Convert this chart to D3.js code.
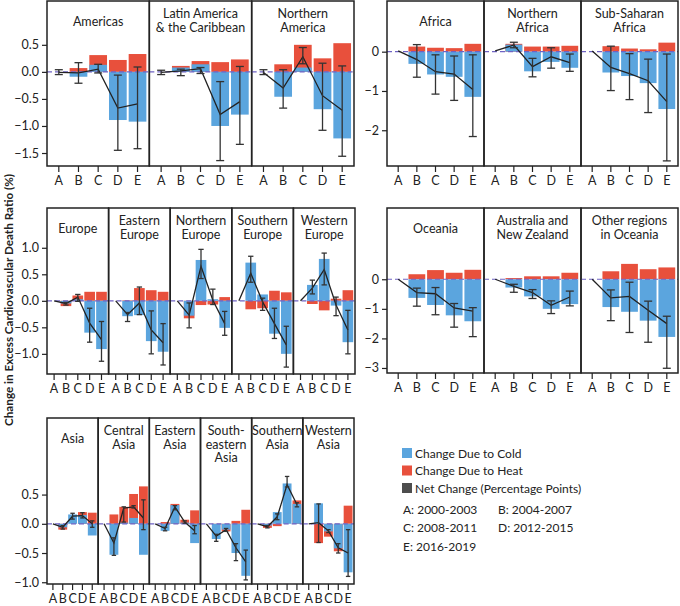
<!DOCTYPE html>
<html>
<head>
<meta charset="utf-8">
<script src="https://cdn.jsdelivr.net/npm/d3@7"></script>
<style>
  body { margin: 0; background: #fff; }
  svg { font-family: Lato, "Open Sans", sans-serif; }
</style>
</head>
<body>
<svg width="680" height="606"></svg>
<script>
// periods (x categories) and regions, in panel order
const periods = ["A", "B", "C", "D", "E"];
const regions = [
  "Americas", "Latin America\n& the Caribbean", "Northern\nAmerica",
  "Africa", "Northern\nAfrica", "Sub-Saharan\nAfrica",
  "Europe", "Eastern\nEurope", "Northern\nEurope", "Southern\nEurope", "Western\nEurope",
  "Oceania", "Australia and\nNew Zealand", "Other regions\nin Oceania",
  "Asia", "Central\nAsia", "Eastern\nAsia", "South-\neastern\nAsia", "Southern\nAsia", "Western\nAsia"
];

// change due to cold, one row per region
const cold = [
  [0, -0.09, 0.13, -0.89, -0.92],
  [0, 0.08, 0.14, -1.0, -0.79],
  [0, -0.46, 0.08, -0.69, -1.23],
  [0, -0.31, -0.58, -0.64, -1.15],
  [0, 0.18, -0.5, -0.26, -0.41],
  [0, -0.53, -0.62, -0.8, -1.46],
  [0, -0.05, 0.03, -0.6, -0.91],
  [0, -0.29, -0.27, -0.76, -0.96],
  [0, -0.28, 0.77, 0.03, -0.51],
  [0, 0.72, 0.12, -0.62, -1.0],
  [0, 0.3, 0.79, -0.09, -0.78],
  [0, -0.63, -0.87, -1.22, -1.42],
  [0, -0.28, -0.58, -1.0, -0.84],
  [0, -0.94, -1.1, -1.4, -1.95],
  [0, -0.06, 0.16, 0.15, -0.2],
  [0, -0.53, 0.02, 0.1, -0.53],
  [0, -0.12, 0.32, 0.02, -0.33],
  [0, -0.26, -0.1, -0.5, -0.89],
  [0, -0.03, 0.2, 0.69, 0.34],
  [0, 0.35, -0.13, -0.42, -0.83]
];

// change due to heat
const heat = [
  [0, 0.07, 0.31, 0.22, 0.33],
  [0, 0.11, 0.2, 0.18, 0.23],
  [0, 0.14, 0.5, 0.25, 0.53],
  [0, 0.13, 0.1, 0.09, 0.2],
  [0, 0.2, 0.13, 0.13, 0.15],
  [0, 0.14, 0.08, 0.06, 0.23],
  [0, -0.1, 0.1, 0.17, 0.17],
  [0, 0.01, 0.24, 0.2, 0.17],
  [0, -0.33, -0.08, -0.07, 0.07],
  [0, -0.16, -0.14, 0.19, 0.16],
  [0, -0.06, -0.18, 0.04, 0.2],
  [0, 0.17, 0.31, 0.22, 0.32],
  [0, 0.04, 0.1, 0.1, 0.22],
  [0, 0.27, 0.52, 0.34, 0.4],
  [0, -0.1, 0.0, 0.2, 0.19],
  [0, 0.16, 0.29, 0.51, 0.64],
  [0, 0.03, 0.34, 0.07, 0.23],
  [0, -0.01, -0.13, 0.05, 0.24],
  [0, -0.07, -0.04, 0.0, 0.4],
  [0, -0.33, -0.22, -0.47, 0.31]
];

// net change (percentage points)
const net = [
  [-0.01, -0.02, 0.05, -0.67, -0.59],
  [-0.01, 0.02, 0.06, -0.79, -0.55],
  [-0.01, -0.3, 0.28, -0.44, -0.71],
  [0.02, -0.2, -0.51, -0.57, -0.96],
  [0.02, 0.17, -0.38, -0.13, -0.28],
  [0.02, -0.4, -0.56, -0.74, -1.27],
  [0, -0.05, 0.07, -0.42, -0.73],
  [0, -0.26, -0.04, -0.55, -0.79],
  [0, -0.27, 0.65, 0.01, -0.43],
  [0, 0.52, -0.02, -0.43, -0.83],
  [0, 0.24, 0.59, -0.08, -0.55],
  [0, -0.45, -0.49, -0.97, -1.08],
  [0, -0.24, -0.45, -0.88, -0.6],
  [0, -0.63, -0.58, -1.05, -1.5],
  [0, -0.06, 0.13, 0.14, 0.0],
  [0, -0.33, 0.27, 0.29, 0.1],
  [0, -0.08, 0.29, 0.03, -0.12],
  [0, -0.21, -0.1, -0.41, -0.65],
  [0, -0.05, 0.12, 0.67, 0.33],
  [0, 0.02, -0.12, -0.41, -0.5]
];

// error bar ends for the net change
const errLow = [
  [-0.05, -0.21, -0.02, -1.45, -1.42],
  [-0.05, -0.07, -0.03, -1.64, -1.34],
  [-0.05, -0.67, 0.15, -1.08, -1.56],
  [0, -0.65, -1.08, -1.24, -2.16],
  [0, 0.1, -0.64, -0.42, -0.5],
  [0, -0.99, -1.22, -1.55, -2.78],
  [0, -0.08, -0.01, -0.78, -1.14],
  [0, -0.39, -0.26, -1.0, -1.21],
  [0, -0.51, 0.42, -0.07, -0.65],
  [0, 0.35, -0.18, -0.71, -1.25],
  [0, 0.13, 0.3, -0.28, -1.0],
  [0, -0.91, -1.2, -1.62, -1.94],
  [0, -0.44, -0.65, -1.16, -0.9],
  [0, -1.4, -1.8, -2.13, -3.01],
  [0, -0.09, 0.08, 0.1, -0.06],
  [0, -0.54, 0.03, 0.27, -0.1],
  [0, -0.12, 0.24, 0.01, -0.17],
  [0, -0.3, -0.13, -0.63, -0.96],
  [0, -0.07, 0.07, 0.63, 0.29],
  [0, -0.32, -0.15, -0.5, -0.9]
];
const errHigh = [
  [0.04, 0.17, 0.14, -0.06, 0.09],
  [0.03, 0.05, 0.08, -0.18, 0.1],
  [0.04, 0.04, 0.45, 0.16, 0.11],
  [0, 0.18, -0.08, -0.11, -0.08],
  [0, 0.24, -0.17, 0.1, -0.06],
  [0, 0.14, -0.05, -0.19, -0.06],
  [0, -0.03, 0.12, -0.14, -0.39],
  [0, -0.22, 0.26, -0.19, -0.43],
  [0, -0.04, 0.97, 0.22, -0.2],
  [0, 0.84, 0.05, -0.14, -0.48],
  [0, 0.39, 0.9, 0.07, -0.18],
  [0, -0.3, -0.28, -0.82, -0.96],
  [0, -0.17, -0.35, -0.73, -0.4],
  [0, -0.36, -0.1, -0.74, -1.25],
  [0, -0.03, 0.18, 0.19, 0.05],
  [0, -0.24, 0.29, 0.31, 0.41],
  [0, -0.06, 0.31, 0.05, -0.03],
  [0, -0.18, -0.08, -0.34, -0.45],
  [0, -0.03, 0.17, 0.81, 0.36],
  [0, 0.34, -0.1, -0.34, -0.1]
];

const periodLabels = ["A: 2000-2003", "B: 2004-2007", "C: 2008-2011", "D: 2012-2015", "E: 2016-2019"];

// panel blocks: which regions share a y axis
const blocks = [
  { first: 0, count: 3, x: 47, w: 307, top: 1, bottom: 166, domain: [-1.74, 1.31], ticks: [-1.5, -1, -0.5, 0, 0.5], fmt: ".1f" },
  { first: 3, count: 3, x: 387, w: 291, top: 1, bottom: 166, domain: [-2.91, 1.29], ticks: [-2, -1, 0], fmt: "d" },
  { first: 6, count: 5, x: 47, w: 308, top: 208, bottom: 374, domain: [-1.38, 1.75], ticks: [-1, -0.5, 0, 0.5, 1], fmt: ".1f" },
  { first: 11, count: 3, x: 387, w: 291, top: 208, bottom: 373, domain: [-3.17, 2.41], ticks: [-3, -2, -1, 0], fmt: "d" },
  { first: 14, count: 6, x: 47, w: 307, top: 418, bottom: 584, domain: [-1.03, 1.81], ticks: [-1, -0.5, 0, 0.5], fmt: ".1f" }
];

const blue = "#5ba5de";
const red = "#e8503c";
const ink = "#222";

let svg = d3.select("svg");

blocks.forEach(function(b) {
  let g = svg.append("g");
  let y = d3.scaleLinear().domain(b.domain).range([b.bottom, b.top]);
  let pw = b.w / b.count;

  // y axis on the left edge
  let yAxis = g.append("g")
    .attr("transform", `translate(${b.x},0)`)
    .call(d3.axisLeft(y).tickValues(b.ticks).tickSize(5).tickPadding(3).tickFormat(d3.format(b.fmt)));
  yAxis.select(".domain").remove();
  yAxis.selectAll("text").attr("font-size", 12.5).attr("fill", ink).attr("font-family", "Lato, sans-serif");
  yAxis.selectAll("line").attr("stroke", ink).attr("stroke-width", 1.2);

  for (let k = 0; k < b.count; k++) {
    let r = b.first + k;
    let x0 = b.x + k * pw;
    let x = d3.scaleBand().domain(periods).range([x0, x0 + pw]).paddingInner(0.1).paddingOuter(0.15);
    let cx = (p) => x(p) + x.bandwidth() / 2;
    let p = g.append("g");

    // heat bars behind, cold bars over them
    p.selectAll("rect.heat")
      .data(periods)
      .enter()
      .append("rect")
      .attr("class", "heat")
      .attr("x", (d) => x(d))
      .attr("width", x.bandwidth())
      .attr("y", (d, i) => y(Math.max(0, heat[r][i])))
      .attr("height", (d, i) => Math.abs(y(heat[r][i]) - y(0)))
      .attr("fill", red);

    p.selectAll("rect.cold")
      .data(periods)
      .enter()
      .append("rect")
      .attr("class", "cold")
      .attr("x", (d) => x(d))
      .attr("width", x.bandwidth())
      .attr("y", (d, i) => y(Math.max(0, cold[r][i])))
      .attr("height", (d, i) => Math.abs(y(cold[r][i]) - y(0)))
      .attr("fill", blue);

    // dashed zero line
    p.append("line")
      .attr("x1", x0).attr("x2", x0 + pw)
      .attr("y1", y(0)).attr("y2", y(0))
      .attr("stroke", "#6f63c4")
      .attr("stroke-width", 1.2)
      .attr("stroke-dasharray", "5,3");

    // net change line
    let line = d3.line().x((d) => cx(d)).y((d, i) => y(net[r][i]));
    p.append("path")
      .datum(periods)
      .attr("d", line)
      .attr("fill", "none")
      .attr("stroke", ink)
      .attr("stroke-width", 1.3);

    // error bars
    let cap = Math.min(8, x.bandwidth() * 0.5) / 2;
    periods.forEach(function(d, i) {
      let lo = errLow[r][i], hi = errHigh[r][i];
      if (hi - lo <= 0) return;
      let e = p.append("g").attr("stroke", "#333").attr("stroke-width", 1.3);
      e.append("line").attr("x1", cx(d)).attr("x2", cx(d)).attr("y1", y(lo)).attr("y2", y(hi));
      e.append("line").attr("x1", cx(d) - cap).attr("x2", cx(d) + cap).attr("y1", y(lo)).attr("y2", y(lo));
      e.append("line").attr("x1", cx(d) - cap).attr("x2", cx(d) + cap).attr("y1", y(hi)).attr("y2", y(hi));
    });

    // x ticks and labels
    let xa = p.append("g");
    xa.selectAll("line")
      .data(periods)
      .enter()
      .append("line")
      .attr("x1", (d) => cx(d)).attr("x2", (d) => cx(d))
      .attr("y1", b.bottom).attr("y2", b.bottom + 6)
      .attr("stroke", ink).attr("stroke-width", 1.2);
    xa.selectAll("text")
      .data(periods)
      .enter()
      .append("text")
      .attr("x", (d) => cx(d))
      .attr("y", b.bottom + 19)
      .attr("text-anchor", "middle")
      .attr("font-size", 12.5)
      .attr("fill", ink)
      .text((d) => d);

    // panel title
    let lines = regions[r].split("\n");
    let t = p.append("text")
      .attr("text-anchor", "middle")
      .attr("font-size", 12.5)
      .attr("fill", ink);
    lines.forEach(function(s, j) {
      t.append("tspan")
        .attr("x", x0 + pw / 2)
        .attr("y", b.top + (lines.length === 1 ? 24.5 : 17 + j * 13.7))
        .text(s);
    });

    // panel frame
    p.append("rect")
      .attr("x", x0).attr("y", b.top)
      .attr("width", pw).attr("height", b.bottom - b.top)
      .attr("fill", "none")
      .attr("stroke", ink)
      .attr("stroke-width", 1.5);
  }
});

// y axis title
svg.append("text")
  .attr("transform", "translate(13,300) rotate(-90)")
  .attr("text-anchor", "middle")
  .attr("font-size", 11.7)
  .attr("font-weight", "bold")
  .attr("fill", ink)
  .text("Change in Excess Cardiovascular Death Ratio (%)");

// legend
const legendItems = [
  { label: "Change Due to Cold", color: blue },
  { label: "Change Due to Heat", color: red },
  { label: "Net Change (Percentage Points)", color: "#4d4d4d" }
];
let lg = svg.append("g");
legendItems.forEach(function(d, i) {
  let cy = 453 + i * 17.5;
  lg.append("rect").attr("x", 402).attr("y", cy - 5).attr("width", 10).attr("height", 10).attr("fill", d.color);
  lg.append("text").attr("x", 415).attr("y", cy + 4.5).attr("font-size", 12).attr("fill", ink).text(d.label);
});
periodLabels.forEach(function(s, i) {
  lg.append("text")
    .attr("x", i % 2 === 0 ? 403 : 498)
    .attr("y", 513.5 + Math.floor(i / 2) * 18.5)
    .attr("font-size", 12)
    .attr("fill", ink)
    .text(s);
});
</script>
</body>
</html>
